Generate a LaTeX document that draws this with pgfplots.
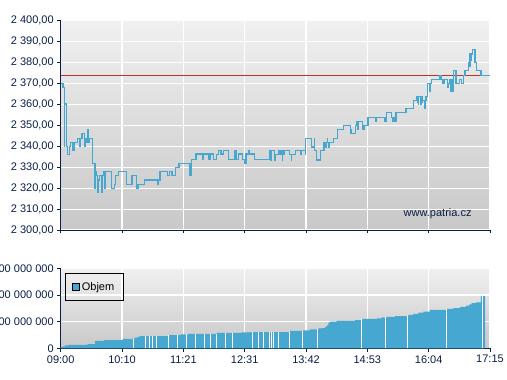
\documentclass[border=0pt]{standalone}
\usepackage{pgfplots}
\pgfplotsset{compat=1.18}
\usepackage{fontspec}
\setmainfont{Liberation Sans}
\definecolor{lineblue}{RGB}{70,167,208}
\definecolor{navy}{RGB}{10,30,72}
\definecolor{refred}{RGB}{190,50,45}
\definecolor{bgtop}{RGB}{240,240,240}
\definecolor{bgbot}{RGB}{200,200,200}
\pgfplotsset{
  common/.style={
    scale only axis,
    width=429.3bp,
    xmin=0, xmax=495,
    axis x line*=bottom, axis y line*=left,
    axis line style={navy, line width=0.8bp},
    tick style={navy, line width=0.8bp},
    tick align=outside,
    major tick length=3.5bp,
    xtick={0,70.714,141.429,212.143,282.857,353.571,424.286,495},
    grid=major,
    major grid style={white, line width=1.1bp},
    axis background/.style={shade, top color=bgtop, bottom color=bgbot},
    ticklabel style={font=\fontsize{11bp}{13bp}\selectfont, text=navy},
    clip=true,
  }
}
\begin{document}
\begin{tikzpicture}
% ---------- price chart ----------
\begin{axis}[common,
  at={(60.7bp,150bp)}, anchor=south west,
  height=209.3bp,
  ymin=2300, ymax=2400,
  ytick={2300,2310,2320,2330,2340,2350,2360,2370,2380,2390,2400},
  yticklabels={{2 300,00},{2 310,00},{2 320,00},{2 330,00},{2 340,00},{2 350,00},{2 360,00},{2 370,00},{2 380,00},{2 390,00},{2 400,00}},
  xticklabels={},
]
\addplot[refred, line width=0.9bp, mark=none] coordinates {(0,2374) (495,2374)};
\addplot[const plot, lineblue, line width=1.2bp, mark=none] coordinates {
(0,2370) (2.7,2368.2) (4.2,2340) (4.6,2360.2) (6.5,2339.8) (7.7,2336.2)
(10.3,2339.8) (11.5,2341.9) (14.2,2338.2) (15.3,2341.9) (19.2,2343.8)
(22.3,2339.8) (23.0,2343.8) (24.6,2346.2) (27.2,2339.8) (28.4,2343.8)
(29.6,2341.9) (31.5,2348.1) (32.3,2341.9) (33.4,2343.8) (36.9,2331.9)
(39.6,2319.9) (40.3,2327.9) (41.1,2326.1) (42.2,2318) (43.0,2323.9)
(44.5,2326.1) (46.9,2318) (47.6,2326.1) (49.2,2327.9) (50.3,2319.9)
(51.1,2327.9) (58.4,2319.9) (62.2,2321.8) (63.4,2326.1) (66.5,2327.9)
(75.7,2321.8) (82.2,2326.1) (87.2,2319.9) (89.1,2321.8) (96.8,2323.9)
(111.4,2321.8) (112.6,2323.9) (114.5,2327.9) (123.0,2326.2) (125.3,2328.1)
(128.3,2326.1) (132.2,2329.9) (136.4,2331.8) (149.1,2326.1) (151.0,2333.7)
(156.0,2336.3) (163.7,2333.7) (164.5,2336.3) (170.2,2333.7) (172.2,2336.3)
(176.0,2333.7) (179.8,2336) (181.8,2338.0) (184.8,2336.3) (187.5,2338.0)
(193.3,2333.7) (201.0,2338.0) (202.9,2333.7) (204.8,2336.3) (209.8,2333.7)
(212.5,2331.8) (213.7,2336.3) (216.4,2338.0) (217.5,2336.3) (223.7,2333.7)
(241.3,2338.0) (242,2333.4) (242.6,2337.8) (246.5,2333.4) (247.1,2335.9)
(251.7,2337.8) (253,2335.9) (254,2337.8) (255.6,2333.4) (256.2,2335.9)
(257.5,2337.8) (263.6,2335.9) (265.9,2333.4) (266.3,2335.9) (270.5,2337.8)
(276.3,2335.9) (277.1,2337.8) (282.1,2335.9) (282.5,2343.6) (289.0,2339.7)
(292.5,2343.6) (292.8,2337.8) (294.8,2333.4) (299.8,2337.8) (303.6,2341.7)
(305,2339.7) (306,2341.7) (307.5,2343.6) (308,2341.7) (309,2339.7)
(309.8,2341.7) (314.4,2343.6) (319.4,2347.9) (325.9,2350) (334.0,2347.9)
(334.8,2346) (339.7,2349.8) (340.9,2351.7) (342,2347.9) (343,2351.7)
(348.2,2347.9) (349.7,2349.8) (354.4,2353.6) (362.8,2351.7) (364.3,2353.6)
(373.9,2352) (375.9,2356.3) (381.6,2353.8) (383,2352) (384,2353.8)
(385.5,2352) (386.6,2356.3) (398.2,2358.1) (406.6,2361.9) (410.5,2363.8)
(411.5,2361) (412.4,2359.9) (413,2363.8) (414.5,2360) (415.5,2363.8)
(416.5,2361) (417.4,2361.9) (419.3,2358.1) (420.1,2361.9) (421.2,2363.8)
(422.8,2370.1) (425.8,2366) (426.5,2370.1) (427.8,2372) (436.6,2373.9)
(437.5,2372) (438.5,2373.9) (439.5,2372) (440.4,2370.1) (442.0,2372)
(445.8,2368.2) (447.0,2370.1) (448.9,2372) (449.5,2366) (450.5,2372)
(451.5,2366) (452.8,2376.1) (455.8,2370.1) (459.7,2372) (462.4,2370.1)
(464.3,2373.9) (466.2,2376.1) (470.0,2380) (471,2378) (472.0,2384.1)
(473,2381) (474,2384.1) (474.7,2386.2) (477.7,2380) (479.7,2376.1)
(484.6,2373.9) (495,2373.9)
};
\node[font=\fontsize{11bp}{13bp}\selectfont, text=navy] at (rel axis cs:0.878,0.08) {www.patria.cz};
\end{axis}
% ---------- volume chart ----------
\begin{axis}[common,
  at={(60.7bp,31.7bp)}, anchor=south west,
  height=80bp,
  ymin=0, ymax=300,
  ytick={0,100,200,300},
  yticklabels={{0},{100 000 000},{200 000 000},{300 000 000}},
  xticklabels={09:00,10:10,11:21,12:31,13:42,14:53,16:04,17:15},
  legend style={at={(rel axis cs:0.01,0.9375)}, anchor=north west,
    draw=black, line width=0.6bp, fill=none,
    font=\fontsize{11bp}{13bp}\selectfont, text=black,
    inner xsep=7bp, inner ysep=6.5bp},
  legend image code/.code={\draw[fill=lineblue, draw=black, line width=0.6bp] (0bp,-3.5bp) rectangle (7bp,3.5bp);},
]
\addplot[const plot, fill=lineblue, draw=none, mark=none] coordinates {
(0,4) (2.3,7.5) (5.0,11) (8.8,12.5) (31.1,16) (39.6,27.5) (49.9,31)
(71.5,35) (83.8,36) (85.7,40) (88.4,42.5) (91.4,46) (124.1,49) (138.3,52.5)
(147.2,54) (179.8,57.5) (208.7,60) (218.3,61) (264.4,65) (279.8,67.5)
(287.5,71) (297.1,75) (300.9,76) (304.8,80) (306.7,86) (308.6,96)
(310.5,100) (318.2,102.5) (339.4,106) (347.1,110) (364.3,112.5) (370.1,116)
(375.1,117.5) (385.5,121) (400.9,125) (406.6,129) (412.4,134) (418.1,137.5)
(425.8,144) (445.1,147.5) (452.7,151) (460.4,155) (467.4,160) (471.2,165)
(473.9,169) (478.9,172.5) (484.6,196) (489.3,196)
} \closedcycle;
\addlegendentry{Objem}
\addplot[ycomb, white, line width=0.8bp, mark=none, forget plot] coordinates {
(83.8,36) (98.0,46) (101.8,46) (105.7,46) (110.7,46) (124.1,49) (134.5,49)
(145.2,52.5) (154.9,54) (165.2,54) (172.9,54) (179.1,54) (189.5,57.5)
(197.9,57.5) (221.4,61) (227.9,61) (233.7,61) (240.2,61) (242.5,61)
(245.2,61) (251.0,61) (263.3,61) (278.6,65) (296.3,71) (347.1,110)
(373.9,116) (400.1,121) (445.1,147.5) (486.2,196)
};
\end{axis}
\pgfresetboundingbox
\useasboundingbox (0bp,0bp) rectangle (507bp,380bp);
\end{tikzpicture}
\end{document}
